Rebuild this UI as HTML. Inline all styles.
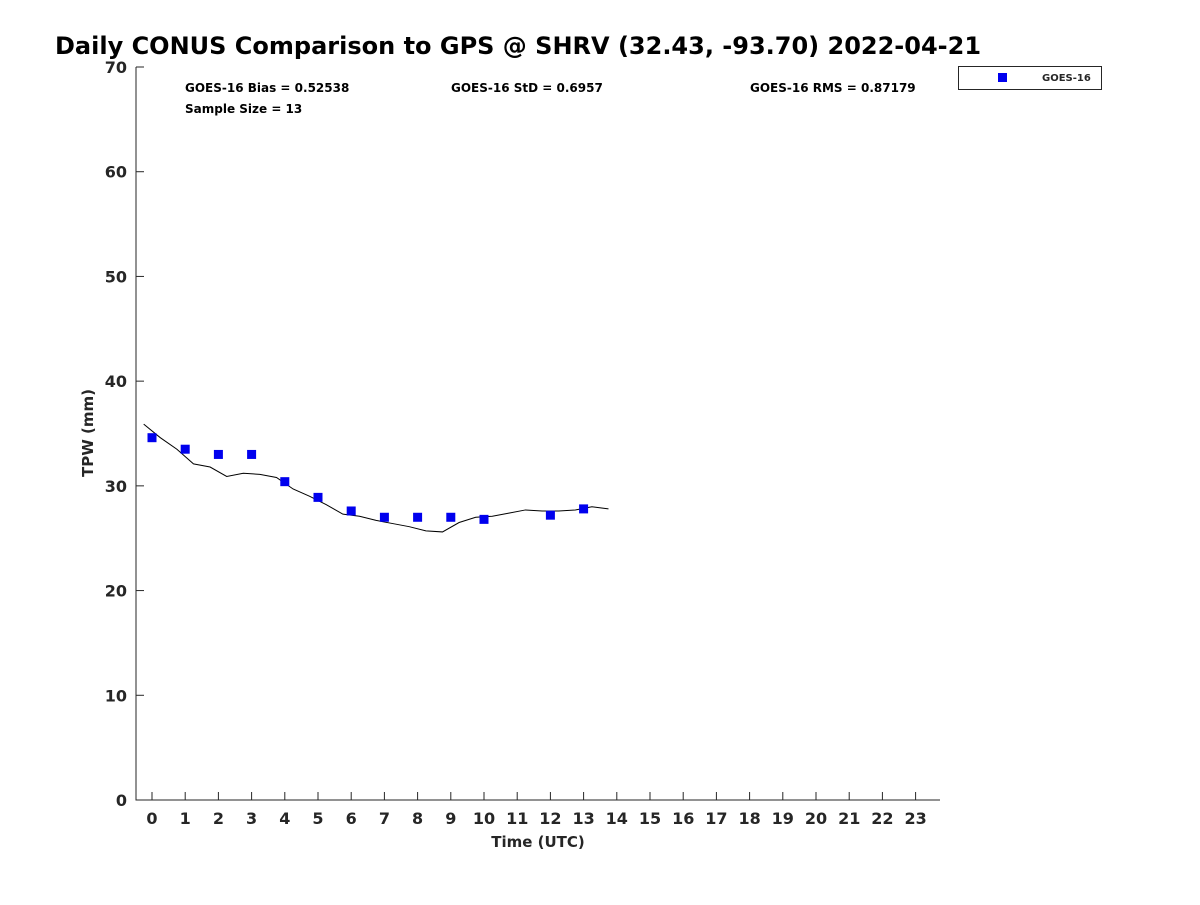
<!DOCTYPE html>
<html><head><meta charset="utf-8"><style>
body{margin:0;background:#fff;width:1200px;height:900px;overflow:hidden}
svg text{font-family:"DejaVu Sans","Liberation Sans",sans-serif;font-weight:bold;fill:#262626}
</style></head><body>
<svg id="chart" width="1200" height="900" xmlns="http://www.w3.org/2000/svg">
<text x="55" y="54" font-size="24" style="fill:#000">Daily CONUS Comparison to GPS @ SHRV (32.43, -93.70) 2022-04-21</text>
<g id="axes"></g>
<text x="185" y="92" font-size="12" style="fill:#000">GOES-16 Bias = 0.52538</text>
<text x="451" y="92" font-size="12" style="fill:#000">GOES-16 StD = 0.6957</text>
<text x="750" y="92" font-size="12" style="fill:#000">GOES-16 RMS = 0.87179</text>
<text x="185" y="113" font-size="12" style="fill:#000">Sample Size = 13</text>
<text transform="translate(93,433) rotate(-90)" text-anchor="middle" font-size="15">TPW (mm)</text>
<text x="538" y="847" text-anchor="middle" font-size="15">Time (UTC)</text>
<g>
<rect x="958.5" y="66.5" width="143" height="23" fill="#fff" stroke="#262626" stroke-width="1"/>
<rect x="998" y="73" width="9" height="9" fill="#0000ee"/>
<text x="1042" y="81" font-size="10">GOES-16</text>
</g>
</svg>
<script>
const lineTimes=[-0.25,0.25,0.75,1.25,1.75,2.25,2.75,3.25,3.75,4.25,4.75,5.25,5.75,6.25,6.75,7.25,7.75,8.25,8.75,9.25,9.75,10.25,10.75,11.25,11.75,12.25,12.75,13.25,13.75];
const gpsValues=[35.9,34.6,33.5,32.1,31.8,30.9,31.2,31.1,30.8,29.7,29.0,28.2,27.3,27.1,26.7,26.4,26.1,25.7,25.6,26.5,27.0,27.1,27.4,27.7,27.6,27.6,27.7,28.0,27.8];
const goesHours=[0,1,2,3,4,5,6,7,8,9,10,12,13];
const goesValues=[34.6,33.5,33.0,33.0,30.4,28.9,27.6,27.0,27.0,27.0,26.8,27.2,27.8];
const xTicks=[0,1,2,3,4,5,6,7,8,9,10,11,12,13,14,15,16,17,18,19,20,21,22,23];
const yTicks=[0,10,20,30,40,50,60,70];
const NS="http://www.w3.org/2000/svg";
const svg=document.getElementById('chart');
const ax=document.getElementById('axes');
const X0=136,X1=940,Y0=800,Y1=67;
const xs=h=>152+h*33.2;
const ys=v=>Y0-(v/70)*(Y0-Y1);
function mk(t,a){const e=document.createElementNS(NS,t);for(const k in a)e.setAttribute(k,a[k]);return e;}
const axl=mk('path',{d:`M${X0} ${Y1} V${Y0} H${X1}`,stroke:'#262626',fill:'none','stroke-width':1});


ax.appendChild(axl);
yTicks.forEach(v=>{
 const y=ys(v);
 const t=mk('line',{x1:X0,x2:X0+8,y1:y,y2:y,stroke:'#262626'});
 
 
 ax.appendChild(t);
 const l=mk('text',{x:X0-9,y:y+6,'text-anchor':'end','font-size':16});
 
 
 l.textContent=v;ax.appendChild(l);
});
xTicks.forEach(h=>{
 const x=xs(h);
 const t=mk('line',{x1:x,x2:x,y1:Y0,y2:Y0-8,stroke:'#262626'});
 
 
 ax.appendChild(t);
 const l=mk('text',{x:x,y:824,'text-anchor':'middle','font-size':16});
 
 
 l.textContent=h;ax.appendChild(l);
});
const pl=mk('polyline',{points:lineTimes.map((h,i)=>xs(h)+','+ys(gpsValues[i])).join(' '),fill:'none',stroke:'#000','stroke-width':1});


svg.appendChild(pl);
goesHours.forEach((h,i)=>{
 const r=mk('rect',{x:xs(h)-4.5,y:ys(goesValues[i])-4.5,width:9,height:9,fill:'#0000ee'});
 
 
 svg.appendChild(r);
});
</script>
</body></html>
